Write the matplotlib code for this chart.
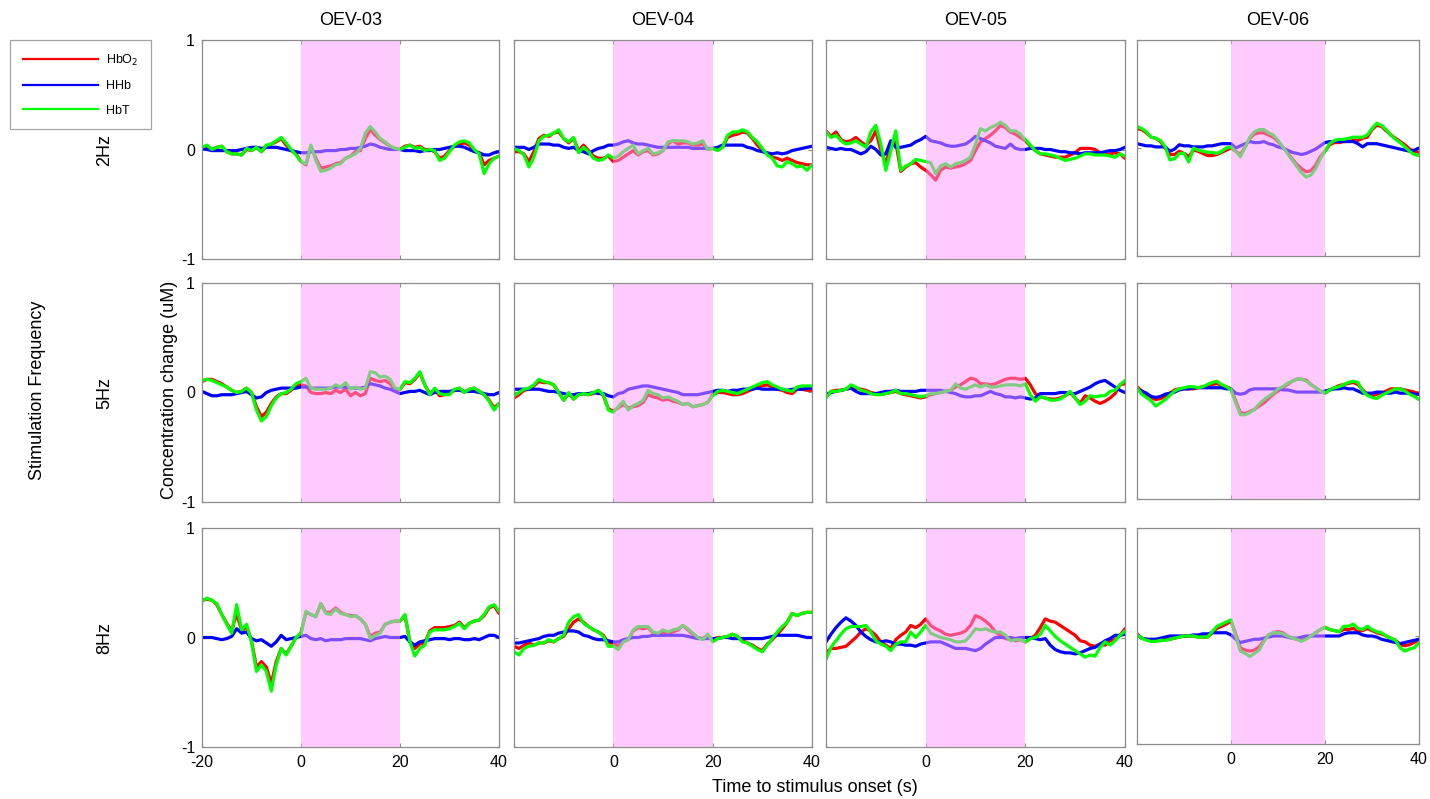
import numpy as np
import matplotlib
matplotlib.use("Agg")
import matplotlib.pyplot as plt
from matplotlib.lines import Line2D

plt.rcParams['font.family'] = ['Liberation Sans', 'DejaVu Sans']

# time axis (s, relative to stimulus onset)
time_s = np.arange(-20, 41, 1)

subjects = ["OEV-03", "OEV-04", "OEV-05", "OEV-06"]
frequencies = ["2Hz", "5Hz", "8Hz"]
series_names = ["HbO$_2$", "HHb", "HbT"]

# ---------------- 2 Hz ----------------
hbo_2hz_03 = [0.02, 0.03, 0.0, 0.02, 0.03, -0.02, -0.04, -0.04, -0.05, 0.0, -0.01, 0.02, -0.02, 0.03, 0.05, 0.07, 0.10, 0.04, -0.01, -0.04,
              -0.11, -0.14, 0.03, -0.08, -0.17, -0.16, -0.15, -0.13, -0.12, -0.08, -0.06, -0.02, -0.01, 0.10, 0.18, 0.13, 0.09, 0.06, 0.03, 0.01,
              0.0, 0.03, 0.04, 0.02, 0.03, 0.0, 0.0, -0.02, -0.08, -0.06, -0.01, 0.03, 0.05, 0.06, 0.04, -0.01, -0.03, -0.14, -0.10, -0.08, -0.06]
hhb_2hz_03 = [0.01, 0.0, -0.01, -0.01, -0.01, -0.01, -0.01, -0.01, 0.0, 0.01, 0.02, 0.02, 0.01, 0.02, 0.02, 0.02, 0.01, 0.0, -0.01, -0.02,
              -0.03, -0.03, -0.02, -0.02, -0.02, -0.01, -0.01, -0.01, 0.0, 0.0, 0.01, 0.01, 0.02, 0.03, 0.05, 0.04, 0.02, 0.01, 0.0, 0.0,
              0.0, -0.01, -0.01, -0.01, -0.02, -0.01, -0.01, 0.0, 0.0, 0.01, 0.02, 0.03, 0.03, 0.02, 0.0, -0.02, -0.03, -0.05, -0.05, -0.03, -0.02]
hbt_2hz_03 = [0.02, 0.04, 0.0, 0.02, 0.03, -0.02, -0.04, -0.04, -0.05, 0.01, -0.01, 0.02, -0.02, 0.04, 0.05, 0.08, 0.11, 0.06, 0.0, -0.05,
              -0.11, -0.13, 0.04, -0.10, -0.20, -0.19, -0.17, -0.14, -0.13, -0.08, -0.06, -0.04, 0.01, 0.15, 0.21, 0.16, 0.10, 0.07, 0.03, 0.01,
              0.0, 0.02, 0.04, 0.01, 0.02, -0.01, 0.0, -0.01, -0.10, -0.08, -0.02, 0.04, 0.07, 0.08, 0.06, 0.0, -0.04, -0.22, -0.13, -0.08, -0.06]

hbo_2hz_04 = [-0.02, -0.02, -0.04, -0.11, -0.02, 0.10, 0.13, 0.12, 0.15, 0.16, 0.10, 0.06, 0.10, -0.01, 0.04, -0.01, -0.06, -0.08, -0.08, -0.06,
              -0.11, -0.10, -0.07, -0.04, -0.01, -0.05, -0.02, -0.01, -0.05, -0.04, -0.01, 0.05, 0.08, 0.05, 0.06, 0.06, 0.04, 0.04, 0.05, 0.0,
              0.01, 0.0, 0.02, 0.11, 0.13, 0.14, 0.16, 0.15, 0.10, 0.04, -0.01, -0.04, -0.07, -0.08, -0.10, -0.08, -0.10, -0.12, -0.13, -0.14, -0.14]
hhb_2hz_04 = [0.02, 0.02, 0.02, 0.0, 0.02, 0.05, 0.05, 0.05, 0.04, 0.04, 0.02, 0.01, 0.02, -0.01, -0.02, -0.04, -0.01, 0.01, 0.02, 0.04,
              0.04, 0.05, 0.07, 0.08, 0.06, 0.05, 0.05, 0.04, 0.03, 0.02, 0.02, 0.02, 0.02, 0.02, 0.02, 0.02, 0.01, 0.01, 0.01, 0.01,
              0.01, 0.02, 0.04, 0.04, 0.04, 0.04, 0.04, 0.02, 0.01, -0.01, -0.02, -0.03, -0.04, -0.03, -0.04, -0.03, -0.01, 0.0, 0.01, 0.02, 0.03]
hbt_2hz_04 = [0.01, -0.01, -0.05, -0.16, -0.07, 0.08, 0.12, 0.13, 0.15, 0.18, 0.10, 0.07, 0.11, -0.03, 0.02, -0.02, -0.08, -0.10, -0.09, -0.05,
              -0.08, -0.06, -0.02, 0.01, 0.04, -0.04, -0.01, 0.01, -0.04, -0.03, -0.01, 0.07, 0.08, 0.08, 0.08, 0.07, 0.05, 0.06, 0.08, 0.0,
              0.01, -0.01, 0.02, 0.13, 0.16, 0.16, 0.18, 0.16, 0.11, 0.07, 0.01, -0.05, -0.08, -0.15, -0.16, -0.11, -0.13, -0.16, -0.15, -0.19, -0.14]

hbo_2hz_05 = [0.17, 0.12, 0.16, 0.09, 0.07, 0.08, 0.11, 0.07, 0.04, 0.08, 0.17, -0.01, -0.13, 0.05, 0.07, -0.20, -0.16, -0.13, -0.12, -0.16,
              -0.19, -0.23, -0.28, -0.19, -0.16, -0.17, -0.16, -0.15, -0.13, -0.10, -0.01, 0.07, 0.10, 0.13, 0.17, 0.22, 0.20, 0.16, 0.14, 0.11,
              0.08, 0.03, -0.01, -0.04, -0.05, -0.06, -0.07, -0.07, -0.07, -0.05, -0.03, 0.01, 0.01, 0.01, 0.0, -0.03, -0.04, -0.04, -0.03, -0.04, -0.08]
hhb_2hz_05 = [0.02, 0.01, 0.0, 0.01, 0.0, 0.0, -0.02, -0.04, -0.02, 0.03, 0.0, -0.05, -0.04, 0.08, 0.02, 0.02, 0.03, 0.04, 0.07, 0.09,
              0.12, 0.08, 0.07, 0.06, 0.04, 0.03, 0.03, 0.04, 0.05, 0.08, 0.12, 0.10, 0.08, 0.06, 0.03, 0.02, 0.01, 0.05, 0.01, 0.0,
              0.0, 0.01, 0.01, 0.01, 0.0, 0.0, -0.01, -0.02, -0.02, -0.03, -0.03, -0.04, -0.03, -0.03, -0.03, -0.03, -0.02, -0.01, -0.01, 0.0, 0.02]
hbt_2hz_05 = [0.16, 0.11, 0.13, 0.08, 0.05, 0.06, 0.08, 0.05, 0.02, 0.16, 0.22, 0.05, -0.19, -0.01, 0.17, -0.19, -0.15, -0.13, -0.09, -0.10,
              -0.11, -0.12, -0.22, -0.15, -0.13, -0.16, -0.13, -0.12, -0.10, -0.07, 0.05, 0.19, 0.17, 0.20, 0.22, 0.25, 0.22, 0.17, 0.17, 0.14,
              0.09, 0.04, -0.01, -0.04, -0.04, -0.05, -0.06, -0.08, -0.10, -0.09, -0.08, -0.06, -0.04, -0.04, -0.05, -0.05, -0.05, -0.06, -0.07, -0.04, -0.06]

hbo_2hz_06 = [0.18, 0.17, 0.14, 0.10, 0.09, 0.06, 0.0, -0.06, -0.06, -0.03, -0.05, -0.08, -0.02, -0.03, -0.05, -0.07, -0.07, -0.06, -0.04, -0.02,
              0.0, -0.03, -0.06, 0.01, 0.09, 0.13, 0.14, 0.14, 0.12, 0.10, 0.06, 0.01, -0.04, -0.10, -0.15, -0.19, -0.22, -0.21, -0.16, -0.08,
              -0.03, 0.03, 0.05, 0.05, 0.06, 0.06, 0.07, 0.07, 0.09, 0.10, 0.17, 0.21, 0.20, 0.16, 0.12, 0.09, 0.06, 0.03, -0.01, -0.03, -0.04]
hhb_2hz_06 = [0.04, 0.03, 0.02, 0.02, 0.01, 0.01, 0.01, -0.03, -0.01, 0.03, 0.02, 0.02, 0.01, 0.01, 0.01, 0.02, 0.02, 0.03, 0.04, 0.04,
              0.04, 0.0, 0.02, 0.04, 0.06, 0.05, 0.05, 0.06, 0.04, 0.03, 0.01, 0.0, -0.02, -0.04, -0.05, -0.06, -0.05, -0.03, -0.01, 0.02,
              0.05, 0.06, 0.06, 0.06, 0.06, 0.06, 0.06, 0.04, 0.01, 0.04, 0.04, 0.04, 0.03, 0.02, 0.01, 0.0, -0.01, -0.02, -0.03, -0.02, 0.0]
hbt_2hz_06 = [0.20, 0.18, 0.15, 0.10, 0.09, 0.07, 0.01, -0.11, -0.10, -0.05, -0.05, -0.13, 0.0, -0.02, -0.03, -0.04, -0.04, -0.05, -0.03, 0.0,
              0.01, -0.03, -0.08, 0.01, 0.10, 0.15, 0.17, 0.17, 0.14, 0.12, 0.07, 0.01, -0.05, -0.11, -0.17, -0.23, -0.27, -0.25, -0.19, -0.10,
              -0.03, 0.04, 0.07, 0.08, 0.08, 0.09, 0.10, 0.10, 0.10, 0.12, 0.18, 0.23, 0.21, 0.17, 0.12, 0.08, 0.05, 0.01, -0.03, -0.06, -0.07]

# ---------------- 5 Hz ----------------
hbo_5hz_03 = [0.10, 0.12, 0.12, 0.10, 0.08, 0.05, 0.02, 0.0, 0.01, 0.04, 0.0, -0.13, -0.22, -0.18, -0.10, -0.04, -0.01, -0.01, 0.02, 0.06,
              0.07, 0.06, 0.0, -0.01, -0.01, 0.0, -0.01, 0.02, 0.0, 0.03, -0.03, 0.0, -0.03, -0.01, 0.13, 0.11, 0.10, 0.11, 0.08, 0.02,
              0.03, 0.09, 0.08, 0.12, 0.18, 0.07, -0.01, 0.03, -0.03, -0.02, -0.01, 0.02, 0.04, 0.0, 0.03, 0.04, 0.01, -0.02, -0.07, -0.14, -0.10]
hhb_5hz_03 = [0.01, -0.01, -0.03, -0.03, -0.02, -0.02, -0.02, -0.01, 0.0, 0.01, -0.02, -0.05, -0.04, 0.0, 0.02, 0.03, 0.04, 0.04, 0.04, 0.04,
              0.05, 0.05, 0.04, 0.04, 0.04, 0.04, 0.04, 0.05, 0.05, 0.05, 0.04, 0.04, 0.04, 0.05, 0.08, 0.07, 0.06, 0.04, 0.03, 0.01,
              -0.01, 0.0, 0.01, 0.01, 0.02, 0.0, -0.02, 0.0, 0.01, 0.01, 0.01, 0.02, 0.02, 0.01, 0.01, 0.01, 0.0, -0.01, -0.02, -0.02, 0.0]
hbt_5hz_03 = [0.11, 0.12, 0.11, 0.09, 0.07, 0.05, 0.02, 0.0, 0.01, 0.04, 0.0, -0.16, -0.26, -0.22, -0.12, -0.05, -0.01, 0.0, 0.03, 0.08,
              0.10, 0.13, 0.04, 0.03, 0.03, 0.03, 0.04, 0.07, 0.05, 0.09, 0.03, 0.05, 0.03, 0.04, 0.19, 0.18, 0.14, 0.15, 0.12, 0.04,
              0.03, 0.10, 0.09, 0.13, 0.19, 0.07, -0.02, 0.04, -0.01, -0.02, -0.02, 0.03, 0.04, 0.0, 0.03, 0.04, 0.01, -0.02, -0.08, -0.16, -0.10]

hbo_5hz_04 = [-0.05, -0.02, 0.02, 0.03, 0.06, 0.10, 0.09, 0.09, 0.07, 0.0, -0.07, -0.01, -0.06, -0.02, -0.01, -0.02, -0.01, 0.02, -0.03, -0.15,
              -0.17, -0.14, -0.11, -0.14, -0.13, -0.12, -0.09, -0.02, -0.04, -0.05, -0.07, -0.06, -0.08, -0.09, -0.11, -0.10, -0.13, -0.12, -0.11, -0.09,
              -0.02, 0.0, 0.0, -0.01, -0.02, -0.02, -0.01, 0.01, 0.03, 0.05, 0.06, 0.07, 0.05, 0.03, 0.02, 0.0, -0.01, 0.03, 0.03, 0.02, 0.02]
hhb_5hz_04 = [0.03, 0.03, 0.03, 0.03, 0.03, 0.03, 0.02, 0.01, 0.01, 0.0, -0.01, -0.02, -0.02, -0.01, -0.01, -0.01, 0.0, -0.01, -0.01, -0.03,
              -0.04, -0.01, 0.0, 0.03, 0.04, 0.05, 0.06, 0.06, 0.05, 0.04, 0.03, 0.02, 0.01, 0.0, -0.02, -0.02, -0.02, -0.02, -0.01, 0.0,
              0.01, 0.02, 0.02, 0.01, 0.02, 0.02, 0.03, 0.03, 0.03, 0.04, 0.03, 0.03, 0.03, 0.03, 0.03, 0.02, 0.03, 0.03, 0.03, 0.04, 0.04]
hbt_5hz_04 = [-0.03, 0.0, 0.03, 0.04, 0.07, 0.12, 0.10, 0.09, 0.07, 0.0, -0.07, 0.0, -0.06, -0.02, -0.01, -0.02, 0.0, 0.02, -0.02, -0.16,
              -0.18, -0.13, -0.08, -0.16, -0.12, -0.10, -0.07, 0.02, -0.01, -0.02, -0.05, -0.04, -0.06, -0.08, -0.11, -0.10, -0.13, -0.12, -0.11, -0.09,
              -0.03, 0.01, 0.02, 0.01, 0.0, -0.01, 0.01, 0.03, 0.05, 0.07, 0.09, 0.10, 0.07, 0.05, 0.03, 0.02, 0.01, 0.05, 0.06, 0.06, 0.06]

hbo_5hz_05 = [-0.04, 0.01, 0.02, 0.02, 0.03, 0.05, 0.04, 0.03, 0.02, 0.0, -0.01, -0.01, -0.01, 0.0, 0.01, -0.01, -0.02, -0.03, -0.04, -0.05,
              -0.04, -0.02, -0.01, 0.0, 0.01, 0.02, 0.05, 0.07, 0.10, 0.13, 0.12, 0.08, 0.08, 0.07, 0.08, 0.10, 0.12, 0.13, 0.13, 0.12,
              0.13, 0.07, -0.01, -0.04, -0.05, -0.06, -0.06, -0.05, -0.03, 0.0, -0.05, -0.10, -0.03, -0.05, -0.08, -0.10, -0.08, -0.05, -0.01, 0.07, 0.08]
hhb_5hz_05 = [-0.02, 0.0, 0.01, 0.02, 0.03, 0.04, 0.01, -0.01, -0.01, -0.01, -0.01, 0.0, 0.01, 0.01, 0.02, 0.01, 0.01, 0.01, 0.01, 0.02,
              0.02, 0.02, 0.02, 0.02, 0.01, 0.0, -0.01, -0.03, -0.04, -0.04, -0.03, -0.03, -0.01, 0.01, -0.01, -0.02, -0.04, -0.04, -0.05, -0.04,
              -0.05, -0.06, -0.05, -0.01, -0.01, -0.01, -0.01, 0.0, 0.0, -0.01, -0.01, 0.01, 0.03, 0.05, 0.08, 0.10, 0.11, 0.08, 0.05, 0.02, 0.0]
hbt_5hz_05 = [-0.05, 0.01, 0.01, 0.02, 0.03, 0.07, 0.05, 0.02, 0.01, -0.01, -0.02, -0.02, -0.01, 0.0, 0.02, -0.01, -0.01, -0.02, -0.03, -0.04,
              -0.03, -0.01, -0.01, 0.0, 0.01, 0.02, 0.08, 0.04, 0.03, 0.05, 0.07, 0.05, 0.07, 0.05, 0.05, 0.06, 0.07, 0.07, 0.07, 0.06,
              0.08, -0.02, -0.08, -0.04, -0.05, -0.07, -0.07, -0.06, -0.03, 0.01, -0.05, -0.11, -0.08, -0.03, -0.04, -0.03, -0.03, 0.01, 0.02, 0.07, 0.11]

hbo_5hz_06 = [0.04, 0.0, -0.03, -0.06, -0.08, -0.07, -0.05, -0.02, 0.01, 0.02, 0.02, 0.02, 0.02, 0.03, 0.04, 0.05, 0.06, 0.07, 0.05, 0.04,
              0.02, -0.09, -0.20, -0.21, -0.19, -0.17, -0.14, -0.11, -0.07, -0.03, 0.0, 0.03, 0.06, 0.09, 0.11, 0.11, 0.10, 0.06, 0.03, 0.0,
              -0.02, 0.01, 0.03, 0.05, 0.06, 0.07, 0.08, 0.06, 0.01, -0.03, -0.05, -0.03, -0.02, 0.0, 0.02, 0.02, 0.02, 0.01, 0.0, -0.01, -0.03]
hhb_5hz_06 = [0.02, 0.0, -0.02, -0.05, -0.06, -0.05, -0.03, -0.02, -0.01, 0.01, 0.02, 0.02, 0.03, 0.03, 0.03, 0.03, 0.03, 0.03, 0.03, 0.02,
              0.02, -0.02, -0.03, -0.02, 0.01, 0.02, 0.02, 0.02, 0.02, 0.02, 0.02, 0.01, 0.01, 0.0, -0.01, -0.01, -0.01, -0.01, -0.01, -0.01,
              0.0, 0.01, 0.02, 0.02, 0.03, 0.02, 0.02, 0.0, -0.02, -0.02, -0.02, -0.01, -0.01, -0.02, -0.02, -0.01, -0.02, -0.02, -0.02, -0.03, -0.03]
hbt_5hz_06 = [0.03, -0.03, -0.06, -0.09, -0.14, -0.11, -0.08, -0.04, 0.0, 0.02, 0.03, 0.04, 0.04, 0.03, 0.04, 0.06, 0.08, 0.09, 0.06, 0.04,
              0.01, -0.11, -0.22, -0.22, -0.20, -0.17, -0.12, -0.08, -0.05, -0.02, 0.02, 0.04, 0.07, 0.09, 0.11, 0.11, 0.09, 0.06, 0.03, 0.0,
              -0.02, 0.01, 0.03, 0.04, 0.06, 0.08, 0.09, 0.08, 0.0, -0.04, -0.06, -0.07, -0.04, -0.02, 0.0, 0.02, 0.02, 0.0, -0.03, -0.05, -0.08]

# ---------------- 8 Hz ----------------
hbo_8hz_03 = [0.34, 0.35, 0.34, 0.30, 0.21, 0.13, 0.06, 0.22, 0.06, 0.10, -0.03, -0.27, -0.22, -0.27, -0.42, -0.22, -0.10, -0.15, -0.08, 0.0,
              0.04, 0.23, 0.21, 0.19, 0.31, 0.23, 0.23, 0.27, 0.23, 0.21, 0.20, 0.20, 0.17, 0.12, 0.01, 0.04, 0.05, 0.12, 0.14, 0.15,
              0.15, 0.20, -0.04, -0.10, -0.06, -0.05, 0.06, 0.09, 0.09, 0.09, 0.10, 0.11, 0.14, 0.09, 0.13, 0.15, 0.16, 0.20, 0.27, 0.29, 0.22]
hhb_8hz_03 = [0.0, 0.0, 0.0, -0.01, -0.02, -0.01, 0.01, 0.08, 0.04, 0.05, -0.01, -0.03, -0.02, -0.05, -0.08, -0.04, 0.02, -0.02, -0.01, 0.0,
              0.01, 0.02, -0.01, -0.02, -0.01, -0.03, -0.02, -0.02, -0.02, -0.01, -0.01, -0.01, -0.01, -0.02, -0.03, -0.01, 0.0, 0.01, 0.0, 0.0,
              0.0, 0.01, -0.04, -0.07, -0.04, -0.03, -0.02, -0.01, -0.01, -0.01, -0.02, -0.01, -0.01, -0.02, -0.02, -0.01, -0.02, 0.0, 0.02, 0.02, 0.0]
hbt_8hz_03 = [0.33, 0.36, 0.34, 0.31, 0.21, 0.12, 0.04, 0.30, 0.07, 0.12, -0.04, -0.31, -0.25, -0.31, -0.49, -0.25, -0.10, -0.16, -0.08, 0.0,
              0.04, 0.24, 0.21, 0.19, 0.31, 0.22, 0.21, 0.26, 0.22, 0.21, 0.19, 0.20, 0.17, 0.12, -0.01, 0.02, 0.04, 0.12, 0.14, 0.15,
              0.15, 0.21, -0.04, -0.17, -0.10, -0.07, 0.05, 0.07, 0.07, 0.07, 0.08, 0.10, 0.13, 0.08, 0.13, 0.15, 0.16, 0.21, 0.28, 0.30, 0.24]

hbo_8hz_04 = [-0.08, -0.10, -0.07, -0.05, -0.07, -0.05, -0.05, -0.03, -0.04, -0.01, 0.01, 0.08, 0.14, 0.17, 0.14, 0.10, 0.07, 0.05, 0.02, -0.05,
              -0.05, -0.08, -0.04, -0.02, 0.06, 0.09, 0.08, 0.09, 0.04, 0.02, 0.05, 0.04, 0.05, 0.07, 0.11, 0.07, 0.03, 0.0, -0.01, 0.02,
              -0.02, 0.0, 0.0, 0.01, 0.03, 0.01, -0.03, -0.05, -0.07, -0.10, -0.12, -0.06, -0.02, 0.03, 0.08, 0.14, 0.22, 0.20, 0.22, 0.23, 0.23]
hhb_8hz_04 = [-0.05, -0.05, -0.04, -0.03, -0.02, -0.01, 0.01, 0.02, 0.02, 0.04, 0.05, 0.06, 0.06, 0.05, 0.02, 0.01, -0.01, -0.02, -0.02, -0.03,
              -0.04, -0.04, -0.02, -0.01, 0.0, 0.0, 0.01, 0.01, 0.02, 0.02, 0.02, 0.02, 0.02, 0.02, 0.02, 0.01, 0.0, -0.01, -0.01, -0.01,
              -0.01, -0.01, 0.0, 0.0, -0.01, -0.01, -0.01, -0.01, -0.01, -0.01, -0.01, 0.0, 0.01, 0.02, 0.02, 0.02, 0.02, 0.02, 0.01, 0.0, 0.0]
hbt_8hz_04 = [-0.13, -0.16, -0.10, -0.08, -0.07, -0.05, -0.05, -0.02, -0.04, -0.01, 0.02, 0.14, 0.19, 0.21, 0.13, 0.10, 0.07, 0.05, 0.01, -0.08,
              -0.08, -0.11, -0.04, -0.02, 0.07, 0.10, 0.10, 0.10, 0.05, 0.04, 0.07, 0.05, 0.07, 0.08, 0.11, 0.08, 0.04, 0.0, -0.02, 0.03,
              -0.04, -0.01, 0.0, 0.01, 0.03, 0.01, -0.04, -0.05, -0.08, -0.11, -0.13, -0.07, -0.01, 0.05, 0.10, 0.14, 0.22, 0.20, 0.22, 0.23, 0.23]

hbo_8hz_05 = [-0.14, -0.10, -0.10, -0.09, -0.08, -0.04, 0.0, 0.05, 0.08, 0.06, 0.02, -0.04, -0.07, -0.10, -0.02, 0.02, 0.05, 0.11, 0.09, 0.12,
              0.17, 0.11, 0.08, 0.06, 0.03, 0.02, 0.03, 0.04, 0.06, 0.11, 0.20, 0.18, 0.15, 0.11, 0.05, 0.02, -0.01, -0.02, -0.03, -0.02,
              -0.04, -0.01, 0.02, 0.09, 0.17, 0.15, 0.14, 0.11, 0.08, 0.05, 0.02, -0.03, -0.04, -0.07, -0.08, -0.06, -0.07, -0.03, -0.02, 0.02, 0.08]
hhb_8hz_05 = [-0.04, 0.03, 0.09, 0.14, 0.18, 0.15, 0.11, 0.05, 0.01, -0.02, -0.04, -0.04, -0.03, -0.04, -0.06, -0.06, -0.07, -0.07, -0.08, -0.06,
              -0.05, -0.04, -0.04, -0.04, -0.06, -0.08, -0.10, -0.10, -0.10, -0.11, -0.12, -0.10, -0.06, -0.03, 0.0, 0.0, 0.0, 0.0, -0.01, 0.0,
              0.0, 0.0, -0.01, -0.02, -0.01, -0.07, -0.11, -0.13, -0.14, -0.14, -0.15, -0.14, -0.12, -0.10, -0.09, -0.06, -0.03, -0.01, 0.02, 0.02, 0.03]
hbt_8hz_05 = [-0.20, -0.09, -0.03, 0.03, 0.08, 0.10, 0.10, 0.10, 0.11, 0.05, -0.03, -0.06, -0.08, -0.12, -0.06, -0.04, -0.04, 0.05, 0.0, 0.05,
              0.11, 0.04, 0.02, 0.0, -0.01, -0.02, -0.04, -0.04, -0.03, 0.02, 0.08, 0.07, 0.08, 0.06, 0.05, 0.05, 0.02, -0.03, -0.02, -0.02,
              -0.04, -0.01, 0.0, 0.03, 0.11, 0.06, 0.01, -0.03, -0.06, -0.09, -0.12, -0.15, -0.18, -0.16, -0.17, -0.09, -0.04, -0.07, -0.03, 0.02, 0.06]

hbo_8hz_06 = [0.02, -0.02, -0.03, -0.04, -0.04, -0.04, -0.03, -0.03, -0.02, -0.01, 0.0, 0.0, 0.0, -0.01, -0.01, -0.01, 0.03, 0.07, 0.09, 0.11,
              0.14, 0.02, -0.11, -0.13, -0.14, -0.13, -0.10, -0.04, 0.01, 0.03, 0.04, 0.03, 0.0, -0.02, -0.03, -0.04, -0.02, 0.0, 0.03, 0.06,
              0.08, 0.06, 0.05, 0.04, 0.06, 0.06, 0.07, 0.05, 0.05, 0.07, 0.05, 0.03, 0.02, 0.0, -0.02, -0.04, -0.08, -0.09, -0.08, -0.06, -0.04]
hhb_8hz_06 = [0.01, -0.02, -0.03, -0.03, -0.03, -0.02, -0.01, 0.0, 0.0, 0.0, 0.0, 0.0, 0.01, 0.01, 0.02, 0.02, 0.03, 0.03, 0.03, 0.03,
              0.01, -0.03, -0.06, -0.05, -0.04, -0.03, -0.03, -0.02, -0.01, 0.0, 0.0, 0.0, -0.01, -0.02, -0.02, -0.01, 0.0, 0.0, 0.0, 0.0,
              0.0, 0.0, 0.0, 0.0, 0.02, 0.03, 0.03, 0.03, 0.01, 0.0, 0.0, -0.01, -0.03, -0.04, -0.05, -0.06, -0.07, -0.06, -0.05, -0.04, -0.03]
hbt_8hz_06 = [0.01, -0.02, -0.04, -0.05, -0.05, -0.04, -0.04, -0.03, -0.02, -0.01, 0.0, 0.0, 0.0, -0.01, -0.01, -0.01, 0.04, 0.09, 0.11, 0.13,
              0.15, 0.0, -0.14, -0.16, -0.19, -0.16, -0.13, -0.05, 0.01, 0.03, 0.03, 0.02, 0.0, -0.02, -0.03, -0.05, -0.03, 0.0, 0.03, 0.06,
              0.08, 0.06, 0.05, 0.04, 0.09, 0.09, 0.11, 0.07, 0.06, 0.09, 0.06, 0.04, 0.03, 0.0, -0.02, -0.04, -0.11, -0.14, -0.12, -0.11, -0.06]

# rows: stimulation frequency, columns: subject
hbo = [[hbo_2hz_03, hbo_2hz_04, hbo_2hz_05, hbo_2hz_06],
       [hbo_5hz_03, hbo_5hz_04, hbo_5hz_05, hbo_5hz_06],
       [hbo_8hz_03, hbo_8hz_04, hbo_8hz_05, hbo_8hz_06]]
hhb = [[hhb_2hz_03, hhb_2hz_04, hhb_2hz_05, hhb_2hz_06],
       [hhb_5hz_03, hhb_5hz_04, hhb_5hz_05, hhb_5hz_06],
       [hhb_8hz_03, hhb_8hz_04, hhb_8hz_05, hhb_8hz_06]]
hbt = [[hbt_2hz_03, hbt_2hz_04, hbt_2hz_05, hbt_2hz_06],
       [hbt_5hz_03, hbt_5hz_04, hbt_5hz_05, hbt_5hz_06],
       [hbt_8hz_03, hbt_8hz_04, hbt_8hz_05, hbt_8hz_06]]

stim_window = (0, 20)
x_ticks = [-20, 0, 20, 40]
y_ticks = [-1, 0, 1]

W, H = 1430, 799
fig = plt.figure(figsize=(W / 100, H / 100), dpi=100)

# panel geometry in pixels (left, width per column; top per row)
col_left = [202, 514, 826, 1137]
col_width = [297, 298, 299, 282]
col_height = [219, 219, 219, 216]
row_top = [40, 283, 528]

edge = '#8c8c8c'
line_colors = ['#ff0000', '#0000ff', '#00ff00']

axes = []
for r in range(3):
    for c in range(4):
        l = col_left[c] / W
        w = col_width[c] / W
        h = col_height[c] / H
        b = 1 - (row_top[r] + col_height[c]) / H
        ax = fig.add_axes([l, b, w, h])
        for data, col in zip((hbo[r][c], hhb[r][c], hbt[r][c]), line_colors):
            ax.plot(time_s, data, color=col, lw=2.3, solid_joinstyle='round',
                    solid_capstyle='round', zorder=2)
        ax.axvspan(*stim_window, color=(1.0, 0.6, 1.0), alpha=0.5, lw=0, zorder=3)
        ax.set_xlim(-20, 40)
        ax.set_ylim(-1, 1)
        ax.set_xticks(x_ticks)
        ax.set_yticks(y_ticks)
        ax.tick_params(direction='in', length=3, width=0.8, color=edge,
                       top=True, right=True, labelsize=11.5)
        ax.tick_params(axis='x', pad=6)
        ax.tick_params(axis='y', pad=5)
        for s in ax.spines.values():
            s.set_color(edge)
            s.set_linewidth(0.9)
            s.set_zorder(4)
        if c == 0:
            ax.set_yticklabels([str(v) for v in y_ticks])
        else:
            ax.set_yticklabels([])
        if r == 2:
            if c == 0:
                ax.set_xticklabels([str(v) for v in x_ticks])
            else:
                ax.set_xticklabels([''] + [str(v) for v in x_ticks[1:]])
        else:
            ax.set_xticklabels([])
        if r == 0:
            ax.set_title(subjects[c], fontsize=13, pad=11)
        axes.append(ax)

# row labels (stimulation frequency)
for r, lab in enumerate(frequencies):
    yc = 1 - (row_top[r] + 110) / H
    fig.text(105 / W, yc, lab, rotation=90, ha='center', va='center', fontsize=13)

fig.text(38 / W, 1 - 390 / H, "Stimulation Frequency", rotation=90,
         ha='center', va='center', fontsize=13)
fig.text(170 / W, 1 - 390 / H, "Concentration change (uM)", rotation=90,
         ha='center', va='center', fontsize=13)
fig.text(815 / W, 1 - 787 / H, "Time to stimulus onset (s)",
         ha='center', va='center', fontsize=13)

handles = [Line2D([], [], color=c, lw=1.6) for c in line_colors]
leg = fig.legend(handles, series_names, loc='upper left',
                 bbox_to_anchor=(10 / W, 1 - 40 / H), bbox_transform=fig.transFigure,
                 fontsize=9, handlelength=6.0, labelspacing=1.0, borderpad=1.0,
                 handletextpad=0.7, borderaxespad=0, fancybox=False, frameon=True)
leg.get_frame().set_edgecolor(edge)
leg.get_frame().set_linewidth(0.9)

fig.savefig("out.png", dpi=100)
